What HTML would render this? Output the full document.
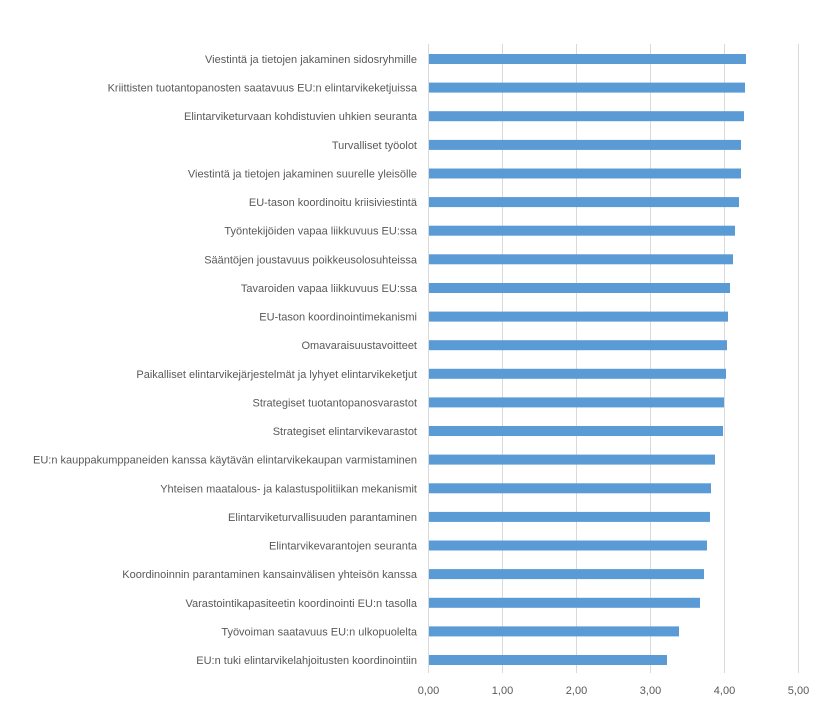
<!DOCTYPE html>
<html>
<head>
<meta charset="utf-8">
<style>
html,body{margin:0;padding:0;background:#fff;}
svg{display:block;}
text{font-family:"Liberation Sans",Arial,sans-serif;fill:#595959;}
</style>
</head>
<body>
<svg width="822" height="701" viewBox="0 0 822 701" xmlns="http://www.w3.org/2000/svg">
<rect x="0" y="0" width="822" height="701" fill="#ffffff"/>
<g stroke="#d9d9d9" stroke-width="1">
<line x1="428.5" y1="44" x2="428.5" y2="673"/>
<line x1="502.5" y1="44" x2="502.5" y2="673"/>
<line x1="576.5" y1="44" x2="576.5" y2="673"/>
<line x1="650.5" y1="44" x2="650.5" y2="673"/>
<line x1="724.5" y1="44" x2="724.5" y2="673"/>
<line x1="798.5" y1="44" x2="798.5" y2="673"/>
</g>
<g fill="#5b9bd5">
<rect x="429" y="54" width="317" height="10"/>
<rect x="429" y="82.6" width="316" height="10"/>
<rect x="429" y="111.2" width="315" height="10"/>
<rect x="429" y="139.9" width="312" height="10"/>
<rect x="429" y="168.5" width="312" height="10"/>
<rect x="429" y="197.1" width="310" height="10"/>
<rect x="429" y="225.7" width="306" height="10"/>
<rect x="429" y="254.3" width="304" height="10"/>
<rect x="429" y="283" width="301" height="10"/>
<rect x="429" y="311.6" width="299" height="10"/>
<rect x="429" y="340.2" width="298" height="10"/>
<rect x="429" y="368.8" width="297" height="10"/>
<rect x="429" y="397.4" width="295" height="10"/>
<rect x="429" y="426" width="294" height="10"/>
<rect x="429" y="454.6" width="286" height="10"/>
<rect x="429" y="483.3" width="282" height="10"/>
<rect x="429" y="511.9" width="281" height="10"/>
<rect x="429" y="540.5" width="278" height="10"/>
<rect x="429" y="569.1" width="275" height="10"/>
<rect x="429" y="597.8" width="271" height="10"/>
<rect x="429" y="626.4" width="250" height="10"/>
<rect x="429" y="655" width="238" height="10"/>
</g>
<g font-size="11" text-anchor="end">
<text x="417" y="63">Viestintä ja tietojen jakaminen sidosryhmille</text>
<text x="417" y="91.6">Kriittisten tuotantopanosten saatavuus EU:n elintarvikeketjuissa</text>
<text x="417" y="120.2">Elintarviketurvaan kohdistuvien uhkien seuranta</text>
<text x="417" y="148.9">Turvalliset työolot</text>
<text x="417" y="177.5">Viestintä ja tietojen jakaminen suurelle yleisölle</text>
<text x="417" y="206.1">EU-tason koordinoitu kriisiviestintä</text>
<text x="417" y="234.7">Työntekijöiden vapaa liikkuvuus EU:ssa</text>
<text x="417" y="263.3">Sääntöjen joustavuus poikkeusolosuhteissa</text>
<text x="417" y="292">Tavaroiden vapaa liikkuvuus EU:ssa</text>
<text x="417" y="320.6">EU-tason koordinointimekanismi</text>
<text x="417" y="349.2">Omavaraisuustavoitteet</text>
<text x="417" y="377.8">Paikalliset elintarvikejärjestelmät ja lyhyet elintarvikeketjut</text>
<text x="417" y="406.4">Strategiset tuotantopanosvarastot</text>
<text x="417" y="435">Strategiset elintarvikevarastot</text>
<text x="417" y="463.6">EU:n kauppakumppaneiden kanssa käytävän elintarvikekaupan varmistaminen</text>
<text x="417" y="492.3">Yhteisen maatalous- ja kalastuspolitiikan mekanismit</text>
<text x="417" y="520.9">Elintarviketurvallisuuden parantaminen</text>
<text x="417" y="549.5">Elintarvikevarantojen seuranta</text>
<text x="417" y="578.1">Koordinoinnin parantaminen kansainvälisen yhteisön kanssa</text>
<text x="417" y="606.8">Varastointikapasiteetin koordinointi EU:n tasolla</text>
<text x="417" y="635.4">Työvoiman saatavuus EU:n ulkopuolelta</text>
<text x="417" y="664">EU:n tuki elintarvikelahjoitusten koordinointiin</text>
</g>
<g font-size="11" text-anchor="middle">
<text x="428.5" y="694">0,00</text>
<text x="502.5" y="694">1,00</text>
<text x="576.5" y="694">2,00</text>
<text x="650.5" y="694">3,00</text>
<text x="724.5" y="694">4,00</text>
<text x="798.5" y="694">5,00</text>
</g>
</svg>
</body>
</html>
